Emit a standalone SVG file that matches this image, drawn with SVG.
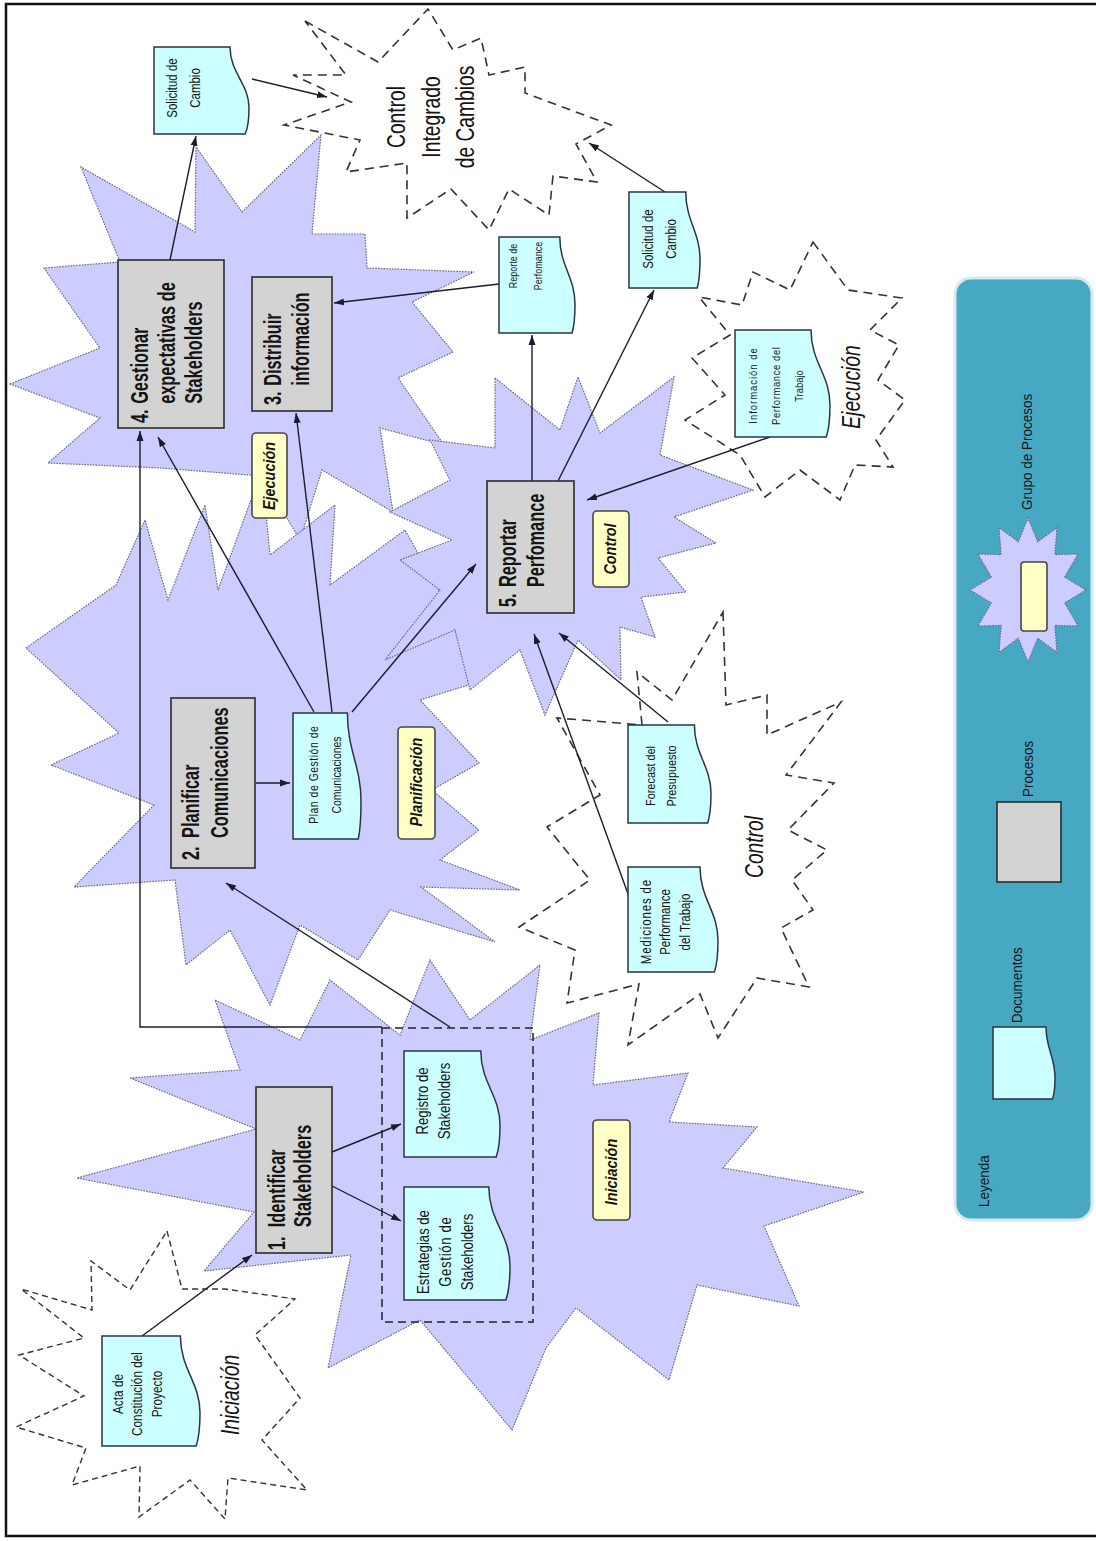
<svg xmlns="http://www.w3.org/2000/svg" width="1096" height="1541" viewBox="0 0 1096 1541">
  <defs>
    <marker id="ah" viewBox="0 0 10 10" refX="10" refY="5" markerWidth="10" markerHeight="10" markerUnits="userSpaceOnUse" orient="auto">
      <path d="M0,1.5 L10,5 L0,8.5 z" fill="#1c1c2c"/>
    </marker>
    <style>
      .star{fill:#ccccff;stroke:#6b6b80;stroke-width:1.2;stroke-dasharray:1.6 1.2}
      .grp{fill:none;stroke:#333;stroke-width:1.6;stroke-dasharray:9 6}
      .grp.fine{stroke-dasharray:6 4;stroke-width:1.4}
      .proc{fill:#d3d3d3;stroke:#2b2b2b;stroke-width:1.6}
      .doc{fill:#ccffff;stroke:#2b3542;stroke-width:1.5}
      .tag{fill:#ffffc6;stroke:#474747;stroke-width:1.6}
      .wire{fill:none;stroke:#1c1c2c;stroke-width:1.4;marker-end:url(#ah)}
      .frame{fill:none;stroke:#111;stroke-width:2.5}
      .dbox{fill:none;stroke:#222;stroke-width:1.5;stroke-dasharray:8 5}
      text{font-family:"Liberation Sans",Arial,sans-serif;fill:#141414}
      .pt{font-size:23px;font-weight:bold}
      .dt text{text-anchor:middle}
      .tt{font-size:16px;font-weight:bold;font-style:italic;text-anchor:middle}
      .gl{font-size:25px;font-style:italic;text-anchor:middle}
      .lg{font-size:15px}
    </style>
  </defs>

  <rect class="frame" x="6" y="4" width="1100" height="1532"/>

  <!-- process groups (purple bursts) -->
  <g id="burst-ejecucion">
    <polygon class="star" points="10,384 100,348 44,268 120,262 81,167 195,232 196,147 242,212 321,135 312,234 365,234 367,268 474,272 412,302 453,352 398,378 444,445 380,428 393,512 322,470 300,540 262,476 160,468 48,463 100,418"/>
  </g>
  <g id="burst-planificacion">
    <polygon class="star" points="26,648 116,585 145,520 168,600 205,505 218,590 262,470 270,555 335,505 330,585 405,530 450,610 475,683 420,700 479,763 432,790 479,830 440,860 520,890 421,887 495,942 390,910 358,960 300,925 270,1005 230,930 186,965 175,880 74,887 154,805 51,765 119,733"/>
  </g>
  <g id="burst-control">
    <polygon class="star" points="495,378 560,430 578,377 600,433 674,377 660,455 753,490 674,517 716,543 658,558 686,592 641,597 655,637 620,627 621,680 578,640 545,715 520,650 470,690 455,630 385,660 440,590 400,560 452,540 390,512 450,480 430,440 495,448"/>
  </g>
  <g id="burst-iniciacion">
    <polygon class="star" points="130,1078 256,1129 77,1178 254,1212 204,1271 351,1255 328,1368 420,1320 512,1430 546,1348 576,1308 669,1380 697,1285 799,1306 764,1226 864,1192 723,1168 757,1127 669,1122 688,1073 593,1085 599,1013 530,1040 540,965 470,1020 430,960 400,1035 330,980 300,1040 215,1000 240,1070"/>
  </g>

  <!-- external process groups (dashed bursts) -->
  <g id="ext-control-integrado">
    <polygon class="grp" points="305,21 378,62 428,9 453,50 481,38 489,75 525,67 525,93 611,125 576,144 597,182 553,176 549,215 509,189 489,230 451,189 407,218 407,163 346,172 360,140 284,125 351,102 293,75 346,75"/>
    <g transform="translate(405,117) rotate(-90) scale(0.74,1)" style="font-size:26px;text-anchor:middle">
      <text x="0" y="0">Control</text>
      <text x="0" y="35">Integrado</text>
      <text x="0" y="69">de Cambios</text>
    </g>
  </g>
  <g id="ext-ejecucion">
    <polygon class="grp" points="813,242 848,290 902,298 870,330 899,345 878,380 905,400 876,440 893,467 855,465 840,500 800,470 765,497 740,455 685,420 725,395 692,358 730,335 699,297 742,305 753,272 790,290"/>
    <text class="gl" transform="translate(860,387) rotate(-90) scale(0.77,1)">Ejecución</text>
  </g>
  <g id="ext-control">
    <polygon class="grp" points="723,612 726,705 767,695 767,735 841,702 786,775 834,783 788,830 827,850 792,880 813,910 781,928 809,987 757,978 718,1038 700,994 628,1045 639,984 567,1003 575,950 519,927 590,880 547,827 600,795 557,718 642,725 637,672 672,700"/>
    <text class="gl" transform="translate(763,847) rotate(-90) scale(0.77,1)">Control</text>
  </g>
  <g id="ext-iniciacion">
    <polygon class="grp fine" points="167,1231 182,1289 225,1289 295,1299 255,1335 300,1398 262,1440 307,1490 228,1478 225,1519 190,1480 139,1517 140,1466 72,1485 86,1448 16,1427 84,1396 19,1355 84,1338 21,1289 92,1310 91,1261 130,1290"/>
    <text class="gl" transform="translate(239,1395) rotate(-90) scale(0.77,1)">Iniciación</text>
  </g>

  <!-- output bundle of process 1 -->
  <rect id="bundle-identificar" class="dbox" x="382" y="1028" width="151" height="294"/>

  <!-- connectors -->
  <g id="connectors">
    <path class="wire" d="M170,260 L196,136"/>
    <path class="wire" d="M252,79 L327,97"/>
    <path class="wire" d="M665,192 L589,143"/>
    <path class="wire" d="M499,284 L334,303"/>
    <path class="wire" d="M532,481 L532,335"/>
    <path class="wire" d="M558,481 L654,290"/>
    <path class="wire" d="M770,437 L587,500"/>
    <path class="wire" d="M668,722 L559,633"/>
    <path class="wire" d="M632,905 L534,634"/>
    <path class="wire" d="M314,712 L158,437"/>
    <path class="wire" d="M332,712 L296,413"/>
    <path class="wire" d="M352,712 L476,564"/>
    <path class="wire" d="M256,783 L290,783"/>
    <path class="wire" d="M450,1027 L226,883"/>
    <path class="wire" d="M382,1027 H140 V431"/>
    <path class="wire" d="M332,1152 L401,1124"/>
    <path class="wire" d="M332,1186 L401,1221"/>
    <path class="wire" d="M142,1336 L252,1255"/>
  </g>

  <!-- processes -->
  <g id="proc-4">
    <rect class="proc" x="118" y="260" width="106" height="168"/>
    <g class="pt" transform="translate(148,423) rotate(-90) scale(0.71,1)">
      <text x="0" y="0">4.</text>
      <text x="27" y="0">Gestionar</text>
      <text x="27" y="27">expectativas de</text>
      <text x="27" y="54">Stakeholders</text>
    </g>
  </g>
  <g id="proc-3">
    <rect class="proc" x="252" y="277" width="80" height="134"/>
    <g class="pt" transform="translate(281,405) rotate(-90) scale(0.71,1)">
      <text x="0" y="0">3.</text>
      <text x="27" y="0">Distribuir</text>
      <text x="27" y="28">información</text>
    </g>
  </g>
  <g id="proc-2">
    <rect class="proc" x="171" y="698" width="84" height="170"/>
    <g class="pt" transform="translate(199,860) rotate(-90) scale(0.71,1)">
      <text x="0" y="0">2.</text>
      <text x="31" y="0">Planificar</text>
      <text x="31" y="29">Comunicaciones</text>
    </g>
  </g>
  <g id="proc-5">
    <rect class="proc" x="487" y="481" width="87" height="132"/>
    <g class="pt" transform="translate(516,607) rotate(-90) scale(0.71,1)">
      <text x="0" y="0">5.</text>
      <text x="28" y="0">Reportar</text>
      <text x="28" y="28">Perfomance</text>
    </g>
  </g>
  <g id="proc-1">
    <rect class="proc" x="256" y="1087" width="76" height="166"/>
    <g class="pt" transform="translate(285,1250) rotate(-90) scale(0.71,1)">
      <text x="0" y="0">1.</text>
      <text x="32" y="0">Identificar</text>
      <text x="32" y="26">Stakeholders</text>
    </g>
  </g>

  <!-- documents -->
  <g id="doc-solicitud-1" class="dt">
    <path class="doc" d="M154,47 H230 C230,73.1 249,83.5 249,107.9 C249,123.6 247.1,129.7 245.2,134 H154 Z"/>
    <g transform="translate(177,88) rotate(-90) scale(0.82,1)" style="font-size:14px">
      <text y="0">Solicitud de</text><text y="23">Cambio</text>
    </g>
  </g>
  <g id="doc-reporte" class="dt">
    <path class="doc" d="M499,237 H559.8 C559.8,265.8 575,277.3 575,304.2 C575,321.5 573.5,328.2 572,333 H499 Z"/>
    <g transform="translate(517,266) rotate(-90) scale(0.82,1)" style="font-size:11px">
      <text y="0">Reporte de</text><text y="25">Perfomance</text>
    </g>
  </g>
  <g id="doc-solicitud-2" class="dt">
    <path class="doc" d="M629,192 H685.8 C685.8,220.8 700,232.3 700,259.2 C700,276.5 698.6,283.2 697.2,288 H629 Z"/>
    <g transform="translate(653,239) rotate(-90) scale(0.82,1)" style="font-size:14px">
      <text y="0">Solicitud de</text><text y="23">Cambio</text>
    </g>
  </g>
  <g id="doc-info-performance" class="dt">
    <path class="doc" d="M735,330 H811 C811,362.1 830,374.9 830,404.9 C830,424.2 828.1,431.7 826.2,437 H735 Z"/>
    <g transform="translate(757,386) rotate(-90) scale(0.82,1)" style="font-size:11.5px">
      <text y="0" textLength="92" lengthAdjust="spacing">Información de</text>
      <text y="23" textLength="95" lengthAdjust="spacing">Performance del</text>
      <text y="46">Trabajo</text>
    </g>
  </g>
  <g id="doc-plan-comunicaciones" class="dt">
    <path class="doc" d="M293,713 H347.4 C347.4,750.8 361,765.9 361,801.2 C361,823.9 359.6,832.7 358.3,839 H293 Z"/>
    <g transform="translate(318,775) rotate(-90) scale(0.82,1)" style="font-size:12.7px">
      <text y="0" textLength="119" lengthAdjust="spacing">Plan de Gestión de</text>
      <text y="23">Comunicaciones</text>
    </g>
  </g>
  <g id="doc-forecast" class="dt">
    <path class="doc" d="M628,725 H694.4 C694.4,754.4 711,766.2 711,793.6 C711,811.2 709.3,818.1 707.7,823 H628 Z"/>
    <g transform="translate(655,776) rotate(-90) scale(0.82,1)" style="font-size:13.3px">
      <text y="0">Forecast del</text><text y="21">Presupuesto</text>
    </g>
  </g>
  <g id="doc-mediciones" class="dt">
    <path class="doc" d="M628,867 H700 C700,898.5 718,911.1 718,940.5 C718,959.4 716.2,966.8 714.4,972 H628 Z"/>
    <g transform="translate(651,922) rotate(-90) scale(0.82,1)" style="font-size:14px">
      <text y="0" textLength="103" lengthAdjust="spacing">Mediciones de</text>
      <text y="19.5">Performance</text>
      <text y="39">del Trabajo</text>
    </g>
  </g>
  <g id="doc-registro" class="dt">
    <path class="doc" d="M404,1051 H480.8 C480.8,1082.8 500,1095.5 500,1125.2 C500,1144.3 498.1,1151.7 496.2,1157 H404 Z"/>
    <g transform="translate(428,1101) rotate(-90) scale(0.82,1)" style="font-size:16px">
      <text y="0">Registro de</text><text y="22">Stakeholders</text>
    </g>
  </g>
  <g id="doc-estrategias" class="dt">
    <path class="doc" d="M404,1187 H488.8 C488.8,1220.9 510,1234.5 510,1266.1 C510,1286.4 507.9,1294.4 505.8,1300 H404 Z"/>
    <g transform="translate(429,1252) rotate(-90) scale(0.82,1)" style="font-size:16px">
      <text y="0">Estrategias de</text>
      <text y="22" textLength="85" lengthAdjust="spacing">Gestión de</text>
      <text y="44">Stakeholders</text>
    </g>
  </g>
  <g id="doc-acta" class="dt">
    <path class="doc" d="M102,1336 H180.4 C180.4,1369 200,1382.2 200,1413 C200,1432.8 198,1440.5 196.1,1446 H102 Z"/>
    <g transform="translate(123,1394) rotate(-90) scale(0.82,1)" style="font-size:14.4px">
      <text y="0">Acta de</text>
      <text y="19.5">Constitución del</text>
      <text y="39">Proyecto</text>
    </g>
  </g>

  <!-- phase tags -->
  <g id="tag-ejecucion">
    <rect class="tag" x="252" y="433" width="35" height="85" rx="4"/>
    <text class="tt" transform="translate(275,476) rotate(-90) scale(0.9,1)">Ejecución</text>
  </g>
  <g id="tag-control">
    <rect class="tag" x="593" y="511" width="36" height="76" rx="4"/>
    <text class="tt" transform="translate(616,549) rotate(-90) scale(0.9,1)">Control</text>
  </g>
  <g id="tag-planificacion">
    <rect class="tag" x="398" y="727" width="37" height="112" rx="4"/>
    <text class="tt" transform="translate(422,782) rotate(-90) scale(0.9,1)">Planificación</text>
  </g>
  <g id="tag-iniciacion">
    <rect class="tag" x="593" y="1120" width="37" height="100" rx="4"/>
    <text class="tt" transform="translate(617,1172) rotate(-90) scale(0.9,1)">Iniciación</text>
  </g>

  <!-- legend -->
  <g id="legend">
    <rect x="955" y="278" width="137" height="942" rx="16" fill="#47a8c4" stroke="#d6e9ef" stroke-width="3"/>
    <polygon class="star" points="1086,590 1064.7,602.9 1078.2,626 1054.9,625.4 1057,652.4 1037.8,638.3 1028,662 1018.2,638.3 999,652.4 1001.1,625.4 977.8,626 991.3,602.9 970,590 991.3,577.1 977.8,554 1001.1,554.6 999,527.6 1018.2,541.7 1028,518 1037.8,541.7 1057,527.6 1054.9,554.6 1078.2,554 1064.7,577.1"/>
    <rect class="tag" x="1021" y="562" width="26" height="69" rx="3"/>
    <rect class="proc" x="997" y="802" width="64" height="80"/>
    <path class="doc" d="M993,1027 H1046 C1046,1048.6 1055,1057.2 1055,1077.4 C1055,1090.4 1053.8,1095.4 1052.5,1099 H993 Z"/>
    <text class="lg" transform="translate(1032,510) rotate(-90) scale(0.9,1)">Grupo de Procesos</text>
    <text class="lg" transform="translate(1033,797) rotate(-90) scale(0.9,1)">Procesos</text>
    <text class="lg" transform="translate(1022,1023) rotate(-90) scale(0.9,1)">Documentos</text>
    <text class="lg" transform="translate(989,1207) rotate(-90) scale(0.9,1)">Leyenda</text>
  </g>
</svg>
